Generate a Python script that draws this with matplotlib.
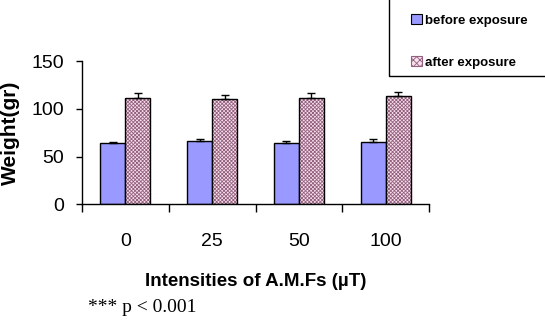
import numpy as np
import matplotlib
matplotlib.use('Agg')
import matplotlib.pyplot as plt
from matplotlib.patches import Patch, Rectangle

# Данные
categories = ['0', '25', '50', '100']
before = [64.5, 66.3, 64.0, 65.0]
before_err = [1.0, 2.0, 2.0, 3.0]
after = [111.0, 110.0, 111.0, 113.4]
after_err = [5.0, 4.0, 5.0, 4.0]

blue = '#9999FF'
pink = '#F8E0EC'
maroon = '#93617F'

plt.rcParams['font.family'] = ['Liberation Sans', 'DejaVu Sans']
plt.rcParams['hatch.linewidth'] = 0.6

fig = plt.figure(figsize=(5.45, 3.25), dpi=100)
ax = fig.add_axes([82 / 545, 1 - 204.3 / 325, (429 - 82) / 545, (204.3 - 61) / 325])

x = np.arange(len(categories))
w = 0.287

# Столбцы "до"
ax.bar(x - w / 2, before, w, color=blue, edgecolor='black', lw=1, zorder=2)
ax.errorbar(x - w / 2, before, yerr=[np.zeros(4), before_err], fmt='none',
            ecolor='black', elinewidth=1, capsize=3, capthick=1, zorder=3)

# Столбцы "после" (штриховка отдельно от чёрной обводки)
ax.bar(x + w / 2, after, w, color=pink, edgecolor=maroon, hatch='x' * 9,
       lw=0, zorder=2)
ax.bar(x + w / 2, after, w, fill=False, edgecolor='black', lw=1, zorder=3)
ax.errorbar(x + w / 2, after, yerr=[np.zeros(4), after_err], fmt='none',
            ecolor='black', elinewidth=1, capsize=3, capthick=1, zorder=3)

ax.set_xlim(-0.5, len(categories) - 0.5)
ax.set_ylim(0, 150)
ax.set_yticks([0, 50, 100, 150])
ax.tick_params(axis='y', labelsize=14, length=4, width=1, direction='out', pad=9)

ax.set_xticks(np.arange(len(categories) + 1) - 0.5)
ax.set_xticklabels([])
ax.tick_params(axis='x', length=6, width=1, direction='out')
ax.set_xticks(x, minor=True)
ax.set_xticklabels(categories, minor=True, fontsize=14)
ax.tick_params(axis='x', which='minor', length=0, pad=21)

for s in ['top', 'right']:
    ax.spines[s].set_visible(False)
for s in ['left', 'bottom']:
    ax.spines[s].set_linewidth(1)

ax.set_ylabel('Weight(gr)', fontsize=15, fontweight='bold', labelpad=8)
ax.set_xlabel('Intensities of A.M.Fs (µT)', fontsize=13.5, fontweight='bold', labelpad=16)

fig.text(88 / 545, 1 - 308 / 325, '*** p < 0.001', fontsize=14,
         family='Liberation Serif', va='center', ha='left')

# Легенда в рамке сверху справа
fig.patches.append(Rectangle((389 / 545, 1 - 76 / 325), 0.5, 0.5,
                             transform=fig.transFigure, fill=False,
                             edgecolor='black', lw=1))
handles = [Patch(facecolor=blue, edgecolor='black', lw=0.8),
           Patch(facecolor=pink, edgecolor=maroon, hatch='xxxxx', lw=0.8)]
fig.legend(handles, ['before exposure', 'after exposure'],
           loc='upper left', bbox_to_anchor=(411 / 545, 1 - 14 / 325),
           frameon=False, borderpad=0, borderaxespad=0,
           handlelength=0.8, handleheight=0.8, handletextpad=0.25,
           labelspacing=2.25, prop={'size': 9.5, 'weight': 'bold'})

fig.savefig('out.png', dpi=100)
